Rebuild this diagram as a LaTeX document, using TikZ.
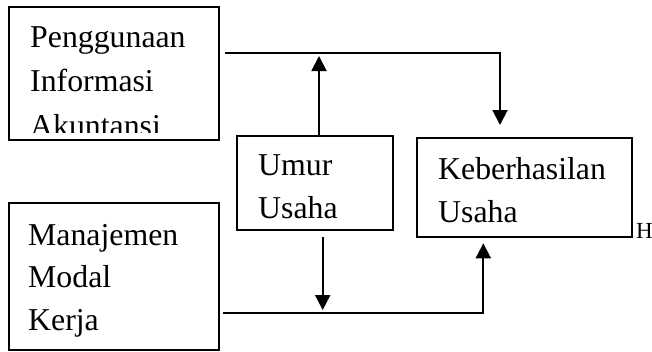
\documentclass[tikz,border=0pt]{standalone}
\usepackage{fontspec}
\setmainfont{Liberation Serif}
\usetikzlibrary{arrows.meta,calc}
\begin{document}
\begin{tikzpicture}[x=1pt,y=-1pt,
  box/.style={draw, line width=1.9pt, inner sep=0pt, outer sep=0pt},
  txt/.style={anchor=base west, align=left, inner sep=0pt,
    font=\fontsize{31.8}{42.5}\selectfont},
  arr/.style={line width=1.9pt, -{Triangle[width=15pt,length=15pt]}}]
\useasboundingbox (0,0) rectangle (652,351);

% boxes
\node[box, minimum width=210pt, minimum height=133pt] (A) at (114,73.5) {};
\node[box, minimum width=156pt, minimum height=94pt]  (B) at (314.7,183) {};
\node[box, minimum width=215pt, minimum height=99pt]  (C) at (524.5,187.5) {};
\node[box, minimum width=210pt, minimum height=147pt] (D) at (114,276.5) {};

% box texts, placed by the baseline of their last line
% (the last line of the first box is cut by its frame)
\begin{scope}
  \clip (9,7) rectangle (219,132);
  \node[txt, font=\fontsize{31.8}{44.5}\selectfont] (ta) at (30,136) {Penggunaan\\Informasi\\Akuntansi};
\end{scope}
\node[txt] (tb) at (258,218.3) {Umur\\Usaha};
\node[txt] (tc) at (438,222) {Keberhasilan\\Usaha};
\node[txt] (td) at (28,330) {Manajemen\\Modal\\Kerja};
\node[anchor=base west, inner sep=0pt, font=\fontsize{23}{26}\selectfont] (h) at (636,238.5) {H};

% connectors
\coordinate (tl) at (225,53);
\coordinate (bl) at (223,313);
\coordinate (ua) at (319,56);
\draw[arr] (tl) -| ([xshift=-24.5pt,yshift=13pt]C.north);
\draw[arr] ([xshift=4.3pt]B.north) -- (ua);
\draw[arr] ([xshift=8pt,yshift=-7pt]B.south) -- ([xshift=8pt]B.south |- 0,310);
\draw[arr] (bl) -| ([xshift=-41.2pt,yshift=-6.3pt]C.south);
\end{tikzpicture}
\end{document}
